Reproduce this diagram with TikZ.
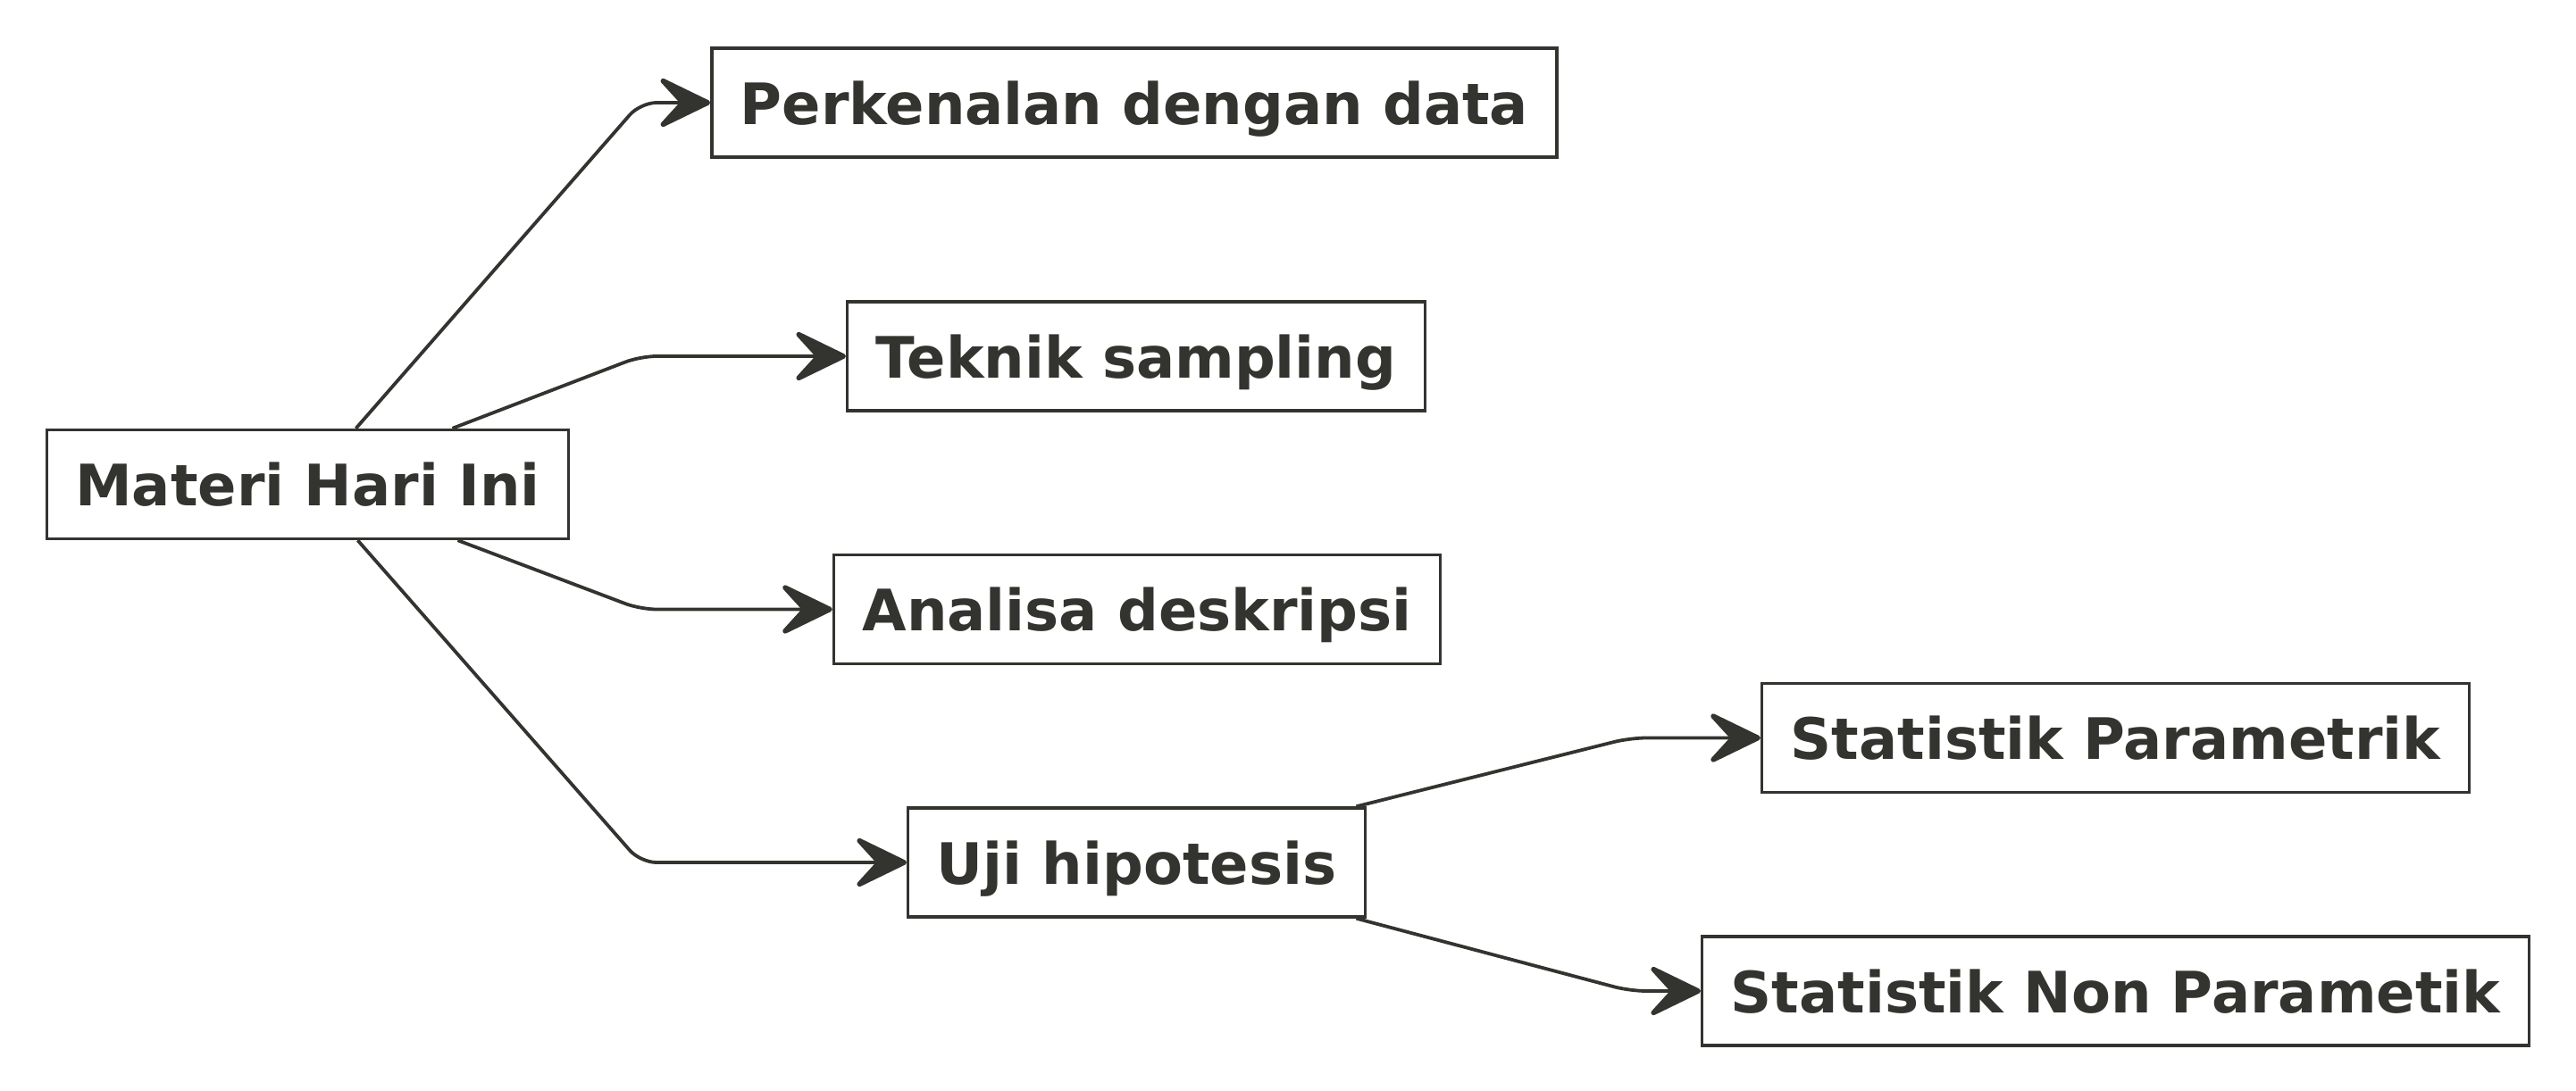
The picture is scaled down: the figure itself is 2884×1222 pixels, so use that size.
\documentclass[tikz,border=0pt]{standalone}
\usepackage{fontspec}
\setmainfont{DejaVu Sans}
\usepackage{xcolor}
\usetikzlibrary{positioning}
\usetikzlibrary{arrows.meta}
\definecolor{ink}{RGB}{51,51,47}

\begin{document}
\begin{tikzpicture}[
		x=0.25pt, y=-0.25pt,
		t/.style = {rectangle, draw=ink, line width=0.85pt, text=ink, inner xsep=8pt, inner ysep=0pt,
			minimum height=30.5pt, text height=12pt, text depth=0pt,
			font=\fontsize{16}{19}\selectfont\bfseries},
		r/.style = {-{Stealth[length=17pt, width=16.5pt, inset=7.5pt, round, line width=1.4pt]}, draw=ink,
			line width=0.95pt, line join=round, rounded corners=4.5pt}
		]
		\useasboundingbox (0,0) rectangle (2884,1222);
		
		%Nodes
		\node[t]	(mat)	at	(344.5, 542.5)	{Materi Hari Ini};
		\node[t]	(per)	at	(1270, 115)	{Perkenalan dengan data};
		\node[t]	(tek)	at	(1272, 399)	{Teknik sampling};
		\node[t]	(ana)	at	(1273, 682.5)	{Analisa deskripsi};
		\node[t]	(uji)	at	(1272.5, 966)	{Uji hipotesis};
		\node[t]	(par)	at	(2368.5, 826.5)	{Statistik Parametrik};
		\node[t]	(non)	at	(2368.5, 1110)	{Statistik Non Parametik};
		
		%Bends
		\coordinate	(k1)	at	(717, 0);
		\coordinate	(k2)	at	(1825, 0);
		
		%Lines
		\draw[r]	([xshift=13.5pt]mat.north)	--	(k1 |- per.west)	--	(per.west);
		\draw[r]	([xshift=40.5pt]mat.north)	--	(k1 |- tek.west)	--	(tek.west);
		\draw[r]	([xshift=42pt]mat.south)	--	(k1 |- ana.west)	--	(ana.west);
		\draw[r]	([xshift=14pt]mat.south)	--	(k1 |- uji.west)	--	(uji.west);
		\draw[r]	([xshift=61.5pt]uji.north)	--	(k2 |- par.west)	--	(par.west);
		\draw[r]	([xshift=61.5pt]uji.south)	--	(k2 |- non.west)	--	(non.west);
	\end{tikzpicture}
\end{document}
